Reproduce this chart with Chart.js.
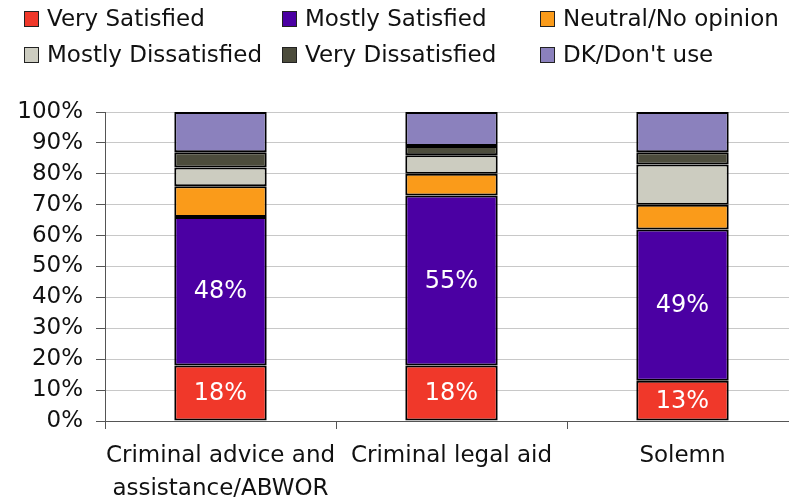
<!DOCTYPE html>
<html>
<head>
<meta charset="utf-8">
<script src="https://cdn.jsdelivr.net/npm/chart.js@4"></script>
<style>
    html, body { margin: 0; padding: 0; background: #fff; overflow: hidden; }
    #wrap { position: relative; width: 789px; height: 502px; overflow: hidden; }
    #chart { position: absolute; left: 0; top: 0; }
    .item { position: absolute; height: 26px; line-height: 26px; font: 23px "DejaVu Sans", sans-serif; color: #111; white-space: nowrap; }
    .box { position: absolute; width: 13px; height: 14px; border: 1px solid #222; }
</style>
</head>
<body>
<div id="wrap">
    <canvas id="chart" width="800" height="502"></canvas>
</div>
<script>
    'use strict';

    const categories = [['Criminal advice and', 'assistance/ABWOR'], 'Criminal legal aid', 'Solemn'];
    const verySatisfied = [18, 18, 13];
    const mostlySatisfied = [48, 55, 49];
    const neutral = [10, 7, 8];
    const mostlyDissatisfied = [6, 6, 13];
    const veryDissatisfied = [5, 3, 4];
    const dontKnow = [13, 11, 13];

    const datasets = [
        { label: 'Very Satisfied', data: verySatisfied, backgroundColor: '#F0382A', showValues: true },
        { label: 'Mostly Satisfied', data: mostlySatisfied, backgroundColor: '#4B00A3', showValues: true },
        { label: 'Neutral/No opinion', data: neutral, backgroundColor: '#FA9B1A' },
        { label: 'Mostly Dissatisfied', data: mostlyDissatisfied, backgroundColor: '#CCCCC0' },
        { label: 'Very Dissatisfied', data: veryDissatisfied, backgroundColor: '#4C4C3C' },
        { label: 'DK/Don\'t use', data: dontKnow, backgroundColor: '#8B81BD' },
    ];

    // white % labels inside the two satisfied segments
    const valueLabels = {
        id: 'valueLabels',
        afterDatasetsDraw(chart) {
            const ctx = chart.ctx;
            chart.data.datasets.forEach(function (ds, i) {
                if (!ds.showValues) return;
                chart.getDatasetMeta(i).data.forEach(function (bar, j) {
                    const p = bar.getCenterPoint();
                    ctx.save();
                    ctx.fillStyle = '#fff';
                    ctx.font = '24px "DejaVu Sans"';
                    ctx.textAlign = 'center';
                    ctx.textBaseline = 'middle';
                    ctx.fillText(ds.data[j] + '%', p.x, p.y + 1);
                    ctx.restore();
                });
            });
        }
    };

    Chart.defaults.font.family = '"DejaVu Sans", sans-serif';
    Chart.defaults.color = '#111';

    new Chart(document.getElementById('chart'), {
        type: 'bar',
        data: {
            labels: categories,
            datasets: datasets.map(function (d) {
                return Object.assign({
                    borderColor: '#000',
                    borderWidth: 2,
                    borderSkipped: false,
                    inflateAmount: 0,
                    barPercentage: 0.4,
                    categoryPercentage: 1,
                }, d);
            }),
        },
        options: {
            responsive: false,
            animation: false,
            layout: {
                padding: { top: 112, right: 2, bottom: 0, left: 0 },
            },
            plugins: {
                legend: { display: false },
                tooltip: { enabled: false },
            },
            scales: {
                x: {
                    stacked: true,
                    grid: {
                        offset: true,
                        drawOnChartArea: false,
                        tickLength: 8,
                        tickColor: '#555',
                    },
                    border: { color: '#555' },
                    ticks: {
                        font: { size: 23, lineHeight: 1.45 },
                        padding: 10,
                        maxRotation: 0,
                        autoSkip: false,
                    },
                    afterFit: function (scale) { scale.height = 81; },
                },
                y: {
                    stacked: true,
                    min: 0,
                    max: 100,
                    grid: {
                        color: '#C8C8C8',
                        tickColor: '#555',
                        tickLength: 9,
                    },
                    border: { color: '#555' },
                    ticks: {
                        stepSize: 10,
                        font: { size: 23 },
                        padding: 13,
                        callback: function (v) { return v + '%'; },
                    },
                    afterFit: function (scale) { scale.width = 105; },
                },
            },
        },
        plugins: [valueLabels],
    });

    // legend laid out in three fixed columns, two rows
    const wrap = document.getElementById('wrap');
    const colX = [24, 282, 540];
    const rowY = [18, 54];
    datasets.forEach(function (d, i) {
        const col = i % 3;
        const row = Math.floor(i / 3);
        const box = document.createElement('div');
        box.className = 'box';
        box.style.left = colX[col] + 'px';
        box.style.top = (rowY[row] - 7) + 'px';
        box.style.background = d.backgroundColor;
        wrap.appendChild(box);
        const item = document.createElement('div');
        item.className = 'item';
        item.style.left = (colX[col] + 23) + 'px';
        item.style.top = (rowY[row] - 13) + 'px';
        item.textContent = d.label;
        wrap.appendChild(item);
    });
</script>
</body>
</html>
